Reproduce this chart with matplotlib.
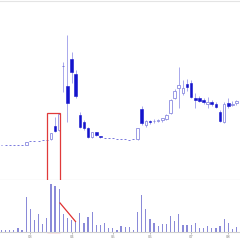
import matplotlib
matplotlib.use("Agg")
import matplotlib.pyplot as plt
from matplotlib.patches import Rectangle

# ---- data ----
opens = [3.70, 3.70, 3.70, 3.70, 3.70, 3.70, 3.70, 3.78, 3.78, 3.79,
         3.80, 3.80, 3.81, 4.07, 3.99, 5.28, 4.88, 5.41, 5.12, 4.29,
         4.15, 4.04, 3.86, 3.95, 3.88, 3.85, 3.84, 3.84, 3.83, 3.82,
         3.82, 3.81, 3.82, 3.82, 4.41, 4.10, 4.18, 4.17, 4.18, 4.19,
         4.22, 4.33, 4.64, 4.84, 4.74, 4.92, 4.94, 4.64, 4.63, 4.60,
         4.52, 4.56, 4.52, 4.36, 4.16, 4.53, 4.50, 4.54]
closes = [3.70, 3.70, 3.70, 3.70, 3.70, 3.70, 3.76, 3.78, 3.78, 3.79,
          3.80, 3.80, 3.93, 3.97, 4.32, 5.28, 4.54, 5.15, 4.67, 4.06,
          4.03, 3.85, 3.95, 3.90, 3.86, 3.85, 3.84, 3.84, 3.83, 3.82,
          3.82, 3.81, 3.82, 4.03, 4.13, 4.17, 4.15, 4.18, 4.19, 4.23,
          4.30, 4.60, 4.78, 4.89, 4.84, 4.86, 4.66, 4.60, 4.58, 4.55,
          4.56, 4.51, 4.46, 4.18, 4.52, 4.48, 4.52, 4.57]
highs = [3.70, 3.70, 3.70, 3.70, 3.70, 3.70, 3.77, 3.78, 3.78, 3.79,
         3.80, 3.80, 3.95, 4.27, 4.34, 5.36, 5.90, 5.57, 5.20, 4.36,
         4.20, 4.06, 3.96, 3.96, 3.89, 3.85, 3.84, 3.84, 3.83, 3.82,
         3.82, 3.81, 3.82, 4.04, 4.48, 4.19, 4.20, 4.22, 4.22, 4.25,
         4.32, 4.62, 4.82, 5.26, 5.00, 5.02, 5.00, 4.74, 4.68, 4.64,
         4.66, 4.60, 4.56, 4.40, 4.56, 4.64, 4.58, 4.60]
lows = [3.70, 3.70, 3.70, 3.70, 3.70, 3.70, 3.70, 3.78, 3.78, 3.79,
        3.80, 3.80, 3.80, 3.96, 3.98, 4.76, 4.16, 4.94, 4.64, 4.04,
        4.00, 3.84, 3.84, 3.88, 3.85, 3.85, 3.84, 3.84, 3.83, 3.82,
        3.82, 3.81, 3.82, 3.81, 4.10, 4.07, 4.12, 4.14, 4.16, 4.17,
        4.20, 4.32, 4.62, 4.44, 4.70, 4.78, 4.64, 4.44, 4.56, 4.52,
        4.44, 4.48, 4.44, 4.16, 4.14, 4.44, 4.48, 4.50]
volumes = [2, 2, 2, 2, 3.3, 2, 35, 22.5, 11.5, 18,
           8, 13.5, 47.5, 46, 42.5, 17.5, 14, 11.5, 10, 19,
           9, 15, 20, 7, 7, 9, 3.5, 3.5, 2, 6,
           4.3, 5, 1.7, 20, 36.7, 22.7, 12.7, 8.3, 5.3, 7.7,
           7.7, 16, 10.3, 17.7, 7, 7, 7, 8.7, 3.7, 3.7,
           6, 3.7, 3.7, 6, 12.7, 8.3, 2.7, 4.3]
tick_pos = [7, 17, 27, 36, 46, 55]
tick_labels = ["03", "04", "05", "06", "07", "08"]

# highlight box and trend line (data coords)
box_x = [10.95, 14.2]
box_top = 4.34
line_x = [14.2, 17.95]
line_y = [28.5, 10]

UP_EDGE = "#8c8ce0"
DOWN_FACE = "#1414cc"
WICK = "#a8a8ec"
FLAT = "#7878dc"
VOLC = "#8a8ad8"
GRID = "#bdbdbd"

fig = plt.figure(figsize=(2.4, 2.4), dpi=100)
fig.patch.set_facecolor("white")
axp = fig.add_axes([0, 60 / 240, 1, 179 / 240])
axv = fig.add_axes([0, 8.5 / 240, 1, 51.5 / 240])

n = len(opens)
xs = list(range(n))
bw = 0.62

for i in xs:
    o, c, h, l = opens[i], closes[i], highs[i], lows[i]
    if h > l:
        axp.vlines(i, l, h, color=WICK, lw=0.7, zorder=1)
    if abs(c - o) < 1e-9:
        axp.hlines(o, i - bw / 2.6, i + bw / 2.6, color=FLAT, lw=0.7, zorder=3)
    elif c > o:
        axp.add_patch(Rectangle((i - bw / 2, o), bw, c - o, facecolor="white",
                                edgecolor=UP_EDGE, lw=0.6, zorder=2))
    else:
        axp.add_patch(Rectangle((i - bw / 2, c), bw, o - c, facecolor=DOWN_FACE,
                                edgecolor=DOWN_FACE, lw=0.4, zorder=2))

axp.set_xlim(-0.364, 57.85)
axp.set_ylim(3.0, 6.58)
axp.set_xticks([])
axp.set_yticks([])
for s in ["left", "right"]:
    axp.spines[s].set_visible(False)
axp.spines["top"].set_color("#e4e4e4")
axp.spines["bottom"].set_color(GRID)
axp.spines["top"].set_linewidth(0.8)
axp.spines["bottom"].set_linewidth(0.8)

# red highlight box spanning both panels
axp.add_patch(Rectangle((box_x[0], 1.96), box_x[1] - box_x[0], box_top - 1.96,
                        facecolor="none", edgecolor="#e03a3a", lw=0.9,
                        clip_on=False, zorder=5))

axv.bar(xs, volumes, width=0.3, color=VOLC, zorder=2)
axv.plot(line_x, line_y, color="#e03030", lw=0.9, zorder=4)
axv.set_xlim(-0.364, 57.85)
axv.set_ylim(0, 51.5)
axv.set_yticks([])
axv.set_xticks(tick_pos)
axv.set_xticklabels(tick_labels, fontsize=2.6, color="#666666")
axv.tick_params(axis="x", length=1.5, width=0.4, pad=0.8, colors="#888888")
for s in ["left", "right", "top"]:
    axv.spines[s].set_visible(False)
axv.spines["bottom"].set_color("#d0d0d0")
axv.spines["bottom"].set_linewidth(0.8)

fig.savefig("out.png", dpi=100)
